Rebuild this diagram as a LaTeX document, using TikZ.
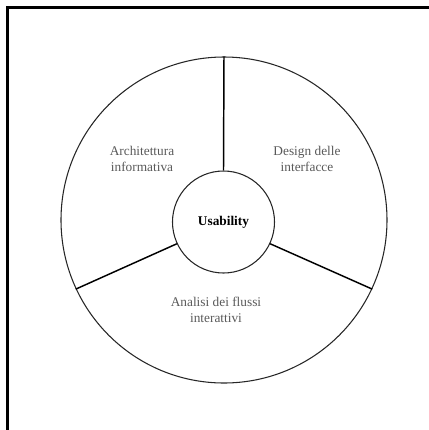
\documentclass[tikz,border=0pt]{standalone}
\usepackage{fontspec}
\setmainfont{Liberation Serif}
\begin{document}
\begin{tikzpicture}[x=0.75pt,y=-0.75pt,
  ring/.style={draw=black!85,line width=0.8pt},
  spoke/.style={draw=black,line width=1.1pt},
  label/.style={text=black!65,font=\fontsize{10}{11.5}\selectfont,align=center,inner sep=0pt},
  frame/.style={draw=black,line width=1.6pt}]
\useasboundingbox (0,0) rectangle (429,430);
\coordinate (tl) at (7.5,7.5);
\coordinate (tr) at (429,7.5);
\coordinate (bl) at (7.5,430);
\draw[frame] (bl) -- (tl) -- (tr);
\node[ring,circle,minimum size=326pt*0.75,inner sep=0pt] (outer) at (224,220) {};
\node[ring,circle,minimum size=102pt*0.75,inner sep=0pt,font=\fontsize{10}{12}\selectfont\bfseries] (inner) at (223.5,222) {Usability};
\draw[spoke] (inner.90) -- (outer.90);
\draw[spoke] (inner.205) -- (outer.205);
\draw[spoke] (inner.-25) -- (outer.-25);
\node[label] (a) at (142,159) {Architettura\\informativa};
\node[label] (d) at (307,159) {Design delle\\interfacce};
\node[label] (f) at (216,310) {Analisi dei flussi\\interattivi};
\end{tikzpicture}
\end{document}
